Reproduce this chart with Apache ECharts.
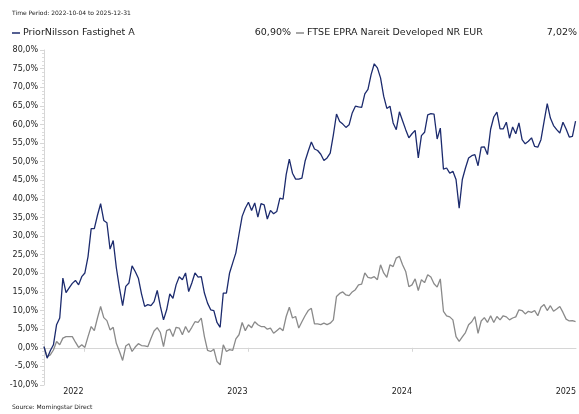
<!DOCTYPE html>
<html>
<head>
<meta charset="utf-8">
<script src="https://cdn.jsdelivr.net/npm/echarts@6/dist/echarts.min.js"></script>
<style>
  html, body { margin: 0; padding: 0; background: #fff; }
  #chart { width: 579px; height: 414px; }
</style>
</head>
<body>
<div id="chart"></div>
<script>
// weekly observations, first one on 2022-10-04
const startDate = [2022, 9, 4];
const priorNilsson = [
  0.3, -2.8, -0.8, 0.8, 6.2, 8.0, 18.7, 14.8, 16.1, 17.3,
  18.1, 16.9, 19.1, 20.1, 24.5, 32.0, 32.0, 35.6, 38.7, 34.2,
  33.6, 26.5, 28.8, 21.5, 16.0, 11.3, 16.5, 17.4, 22.0, 20.5,
  18.7, 14.5, 11.1, 11.6, 11.3, 12.4, 15.4, 11.1, 7.5, 10.2,
  14.5, 13.3, 16.9, 19.1, 18.3, 20.1, 15.1, 17.4, 20.1, 19.0,
  19.1, 14.7, 12.0, 10.2, 10.0, 6.8, 5.5, 14.7, 14.7, 20.1,
  22.8, 25.5, 30.5, 35.3, 37.5, 39.1, 36.9, 38.9, 35.1, 38.7,
  38.4, 34.6, 36.9, 36.0, 36.6, 40.2, 39.9, 46.5, 50.7, 46.9,
  45.3, 45.3, 45.6, 50.1, 52.8, 55.3, 53.4, 53.0, 52.0, 50.3,
  51.0, 52.3, 57.2, 62.8, 60.8, 60.1, 59.2, 59.9, 63.1, 64.9,
  64.7, 64.6, 68.2, 69.4, 73.4, 76.3, 75.2, 72.5, 67.6, 64.3,
  64.9, 60.4, 58.6, 63.4, 61.0, 58.6, 56.4, 57.5, 58.4, 51.0,
  57.0, 57.9, 62.6, 62.9, 62.8, 56.1, 59.0, 48.0, 48.3, 46.9,
  47.4, 45.2, 37.5, 45.2, 48.3, 51.0, 51.6, 51.9, 48.9, 53.9,
  54.0, 51.9, 58.7, 62.0, 63.3, 58.8, 58.8, 60.6, 56.3, 59.3,
  57.5, 60.4, 55.9, 54.8, 55.5, 56.4, 54.1, 53.9, 55.9, 60.8,
  65.6, 61.7, 59.7, 58.6, 57.7, 60.6, 58.8, 56.6, 56.8, 60.9
];
const ftseEpra = [
  0.3, -2.4, -1.9, -0.6, 1.7, 0.8, 2.6, 3.0, 3.0, 3.0,
  1.5, 0.1, 0.8, 0.1, 3.0, 5.7, 4.6, 8.0, 11.1, 8.1,
  7.3, 4.8, 5.5, 1.2, -1.0, -3.4, 0.5, 1.1, -1.0, 0.2,
  1.1, 0.6, 0.5, 0.3, 2.5, 4.5, 5.4, 4.1, 0.3, 4.6,
  5.0, 3.0, 5.5, 5.3, 3.5, 5.7, 4.1, 5.5, 7.0, 6.8,
  8.0, 3.0, -0.7, -1.0, -0.4, -3.7, -4.6, 0.8, -1.0, -0.5,
  -0.7, 2.4, 3.5, 6.8, 4.6, 6.2, 5.4, 7.0, 6.2, 5.7,
  5.7, 5.0, 5.3, 3.9, 4.6, 5.3, 4.6, 8.4, 10.9, 8.0,
  8.4, 5.3, 7.0, 8.6, 10.0, 10.6, 6.4, 6.4, 6.2, 6.6,
  6.2, 6.6, 7.5, 13.8, 14.6, 15.0, 14.2, 14.0, 15.0, 15.6,
  16.9, 17.1, 20.1, 18.9, 18.7, 19.1, 18.3, 22.3, 20.1, 18.9,
  22.3, 21.8, 24.1, 24.6, 22.3, 20.5, 16.4, 16.9, 18.5, 15.4,
  18.3, 17.5, 19.6, 19.0, 17.2, 16.3, 18.5, 9.8, 8.6, 8.3,
  7.5, 3.0, 1.7, 2.9, 4.1, 6.2, 7.0, 8.4, 3.9, 7.2,
  8.1, 6.8, 8.6, 6.8, 8.4, 7.5, 8.6, 8.3, 7.5, 8.0,
  8.3, 10.2, 10.0, 9.1, 9.8, 9.5, 10.0, 8.6, 10.9, 11.6,
  10.0, 11.3, 9.8, 10.4, 11.1, 9.5, 7.7, 7.2, 7.3, 7.0
];
const seriesNames = ['PriorNilsson Fastighet A', 'FTSE EPRA Nareit Developed NR EUR'];
const endReturns = ['60,90%', '7,02%'];
const yearTicks = ['2023-01-01', '2024-01-01', '2025-01-01'];
const yearLabelDates = ['2022-12-31', '2023-12-31', '2024-12-31', '2025-12-31'];
const yearLabels = ['2022', '2023', '2024', '2025'];

const BLUE = '#1c2b6e';
const GREY = '#8a8a8a';
const FONT = 'DejaVu Sans';

function weekDate(i) {
    return new Date(startDate[0], startDate[1], startDate[2] + 7 * i).getTime();
}
function ts(s) {
    let p = s.split('-');
    return new Date(+p[0], +p[1] - 1, +p[2]).getTime();
}

let blueData = priorNilsson.map((v, i) => [weekDate(i), v]);
let greyData = ftseEpra.map((v, i) => [weekDate(i), v]);
let labelTs = yearLabelDates.map(ts);

let chart = echarts.init(document.getElementById('chart'), null, {renderer: 'canvas'});
let legendBase = {
    top: 28, padding: 0,
    icon: 'rect', itemWidth: 8, itemHeight: 1.5,
    textStyle: {fontFamily: FONT, fontSize: 9.5, color: '#222', padding: [0, 0, 0, -2]},
    selectedMode: false
};
let option = {
    animation: false,
    backgroundColor: '#fff',
    textStyle: {fontFamily: FONT},
    legend: [
        Object.assign({data: [seriesNames[0]], left: 12}, legendBase),
        Object.assign({data: [seriesNames[1]], left: 296}, legendBase)
    ],
    graphic: [
        {type: 'text', left: 12, top: 10, style: {text: 'Time Period: 2022-10-04 to 2025-12-31', font: '6px "DejaVu Sans"', fill: '#222'}},
        {type: 'text', right: 288, top: 28, style: {text: endReturns[0], font: '9.5px "DejaVu Sans"', fill: '#222'}},
        {type: 'text', right: 2, top: 28, style: {text: endReturns[1], font: '9.5px "DejaVu Sans"', fill: '#222'}},
        {type: 'text', left: 12, top: 404, style: {text: 'Source: Morningstar Direct', font: '6px "DejaVu Sans"', fill: '#222'}}
    ],
    grid: {left: 44, right: 1, top: 50, height: 335, containLabel: false},
    xAxis: {
        type: 'value',
        min: ts('2022-10-04'),
        max: ts('2025-12-31'),
        axisLine: {lineStyle: {color: '#d6d6d6', width: 1}},
        axisTick: {
            show: true, length: 4, inside: false,
            customValues: yearTicks.map(ts),
            lineStyle: {color: '#d6d6d6'}
        },
        axisLabel: {
            customValues: labelTs,
            formatter: function (val) {
                let idx = labelTs.indexOf(val);
                return idx >= 0 ? yearLabels[idx] : '';
            },
            align: 'right',
            margin: 3,
            fontFamily: FONT, fontSize: 8, color: '#222'
        },
        splitLine: {show: false}
    },
    yAxis: {
        type: 'value',
        min: -10, max: 80, interval: 5,
        axisLine: {show: true, lineStyle: {color: '#d6d6d6', width: 1}},
        axisTick: {show: true, length: 4, lineStyle: {color: '#d6d6d6'}},
        minorTick: {show: true, splitNumber: 5, length: 2, lineStyle: {color: '#dcdcdc'}},
        axisLabel: {
            formatter: function (v) { return v.toFixed(1).replace('.', ',') + '%'; },
            margin: 6,
            fontFamily: FONT, fontSize: 8, color: '#222'
        },
        splitLine: {show: false}
    },
    series: [
        {
            name: seriesNames[0], type: 'line', data: blueData,
            symbol: 'none', smooth: false, z: 3,
            lineStyle: {color: BLUE, width: 1.3},
            itemStyle: {color: BLUE}
        },
        {
            name: seriesNames[1], type: 'line', data: greyData,
            symbol: 'none', smooth: false, z: 2,
            lineStyle: {color: GREY, width: 1.3},
            itemStyle: {color: GREY}
        }
    ]
};
chart.setOption(option);
</script>
</body>
</html>
